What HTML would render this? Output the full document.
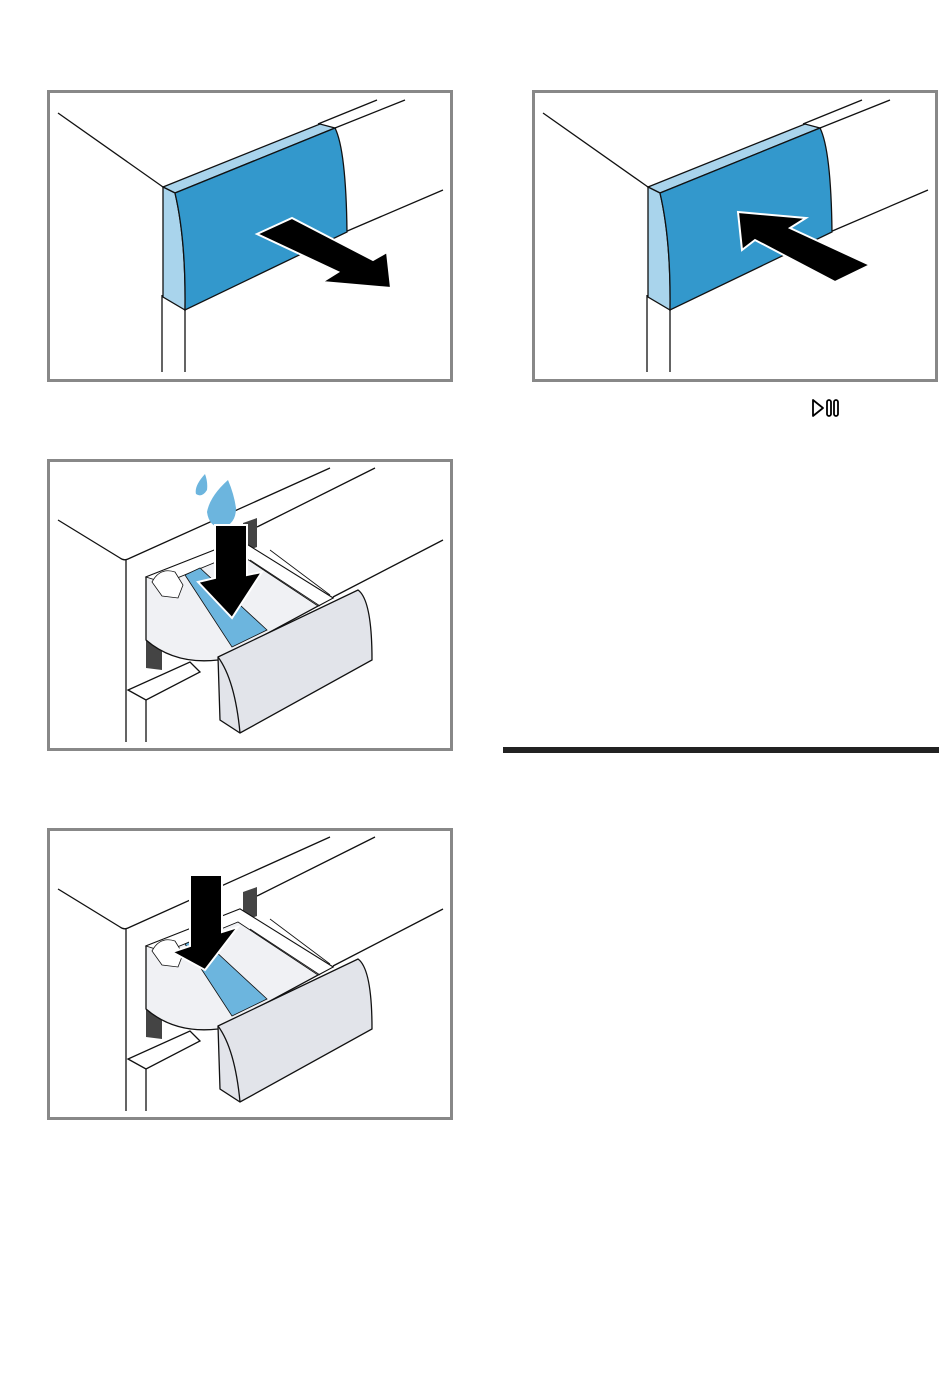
<!DOCTYPE html>
<html><head><meta charset="utf-8"><style>
html,body{margin:0;padding:0;background:#fff;width:950px;height:1392px;overflow:hidden}
svg{display:block}
</style></head><body>
<svg width="950" height="1392" viewBox="0 0 950 1392" xmlns="http://www.w3.org/2000/svg">
<defs>
<g id="cab" fill="none" stroke="#111" stroke-width="1.3">
  <path d="M58,113 L163,187"/>
  <path d="M318,124 L377,100"/>
  <path d="M335,128 L405,100"/>
  <path d="M345,232 L443,190"/>
  <path d="M162,295 L162,372"/>
  <path d="M185,310 L185,372"/>
  <path d="M163,187 L320,124 L335,128 L175,193 Z" fill="#a9d4ec"/>
  <path d="M163,187 L175,193 Q186,240 185,310 L163,297 Z" fill="#a9d4ec"/>
  <path d="M175,193 L335,128 Q346,150 347,232 L185,310 Q186,240 175,193 Z" fill="#3398cc"/>
</g>
<g id="drw" stroke="#111" stroke-width="1.3">
  <path d="M58,520 L120,558 Q124,561 128,559 L330,468" fill="none"/>
  <path d="M257,527 L375,468" fill="none"/>
  <path d="M126,560 L126,742" fill="none"/>
  <path d="M146,700 L146,742" fill="none"/>
  <path d="M333,597 L443,540" fill="none"/>
  <path d="M128,690 L146,700 L200,672 L190,662 Z" fill="#fff"/>
  <path d="M243,523 L257,518 L257,547 L243,552 Z" fill="#444" stroke="none"/>
  <path d="M146,600 L146,668 L162,670 L162,640 Z" fill="#444" stroke="none"/>
  <path d="M146,577 L240,540 L333,598 L218,660 Q175,665 146,640 Z" fill="#f0f1f4"/>
  <path d="M146,577 L240,540 L333,598 L318,606 L238,553 L165,583 Z" fill="#fff" stroke-width="0.9"/>
  <path d="M250,560 L320,606" fill="none" stroke-width="0.8"/>
  <path d="M270,550 L330,595" fill="none" stroke-width="0.8"/>
  <path d="M185,575 L200,568 L267,630 L232,647 Z" fill="#6cb5de" stroke-width="0.8"/>
  <path d="M152,582 Q160,567 175,572 L183,585 L178,598 L162,596 Z" fill="#fff" stroke-width="0.8"/>
  <path d="M218,657 L358,590 Q372,600 372,660 L240,733 L220,720 Z" fill="#e2e4ea"/>
  <path d="M218,657 Q235,680 240,733" fill="none"/>
</g>
</defs>

<rect x="48.5" y="91.5" width="403" height="289" fill="#fff" stroke="#888" stroke-width="3"/>
<use href="#cab"/>
<path d="M257,234 L292,218 L373,260 L387,252 L391,288 L322,282 L338,272 Z" fill="#000" stroke="#fff" stroke-width="2"/>

<rect x="533.5" y="91.5" width="403" height="289" fill="#fff" stroke="#888" stroke-width="3"/>
<use href="#cab" transform="translate(485,0)"/>
<path d="M870,265 L835,282 L755,240 L742,250 L738,212 L806,218 L790,228 Z" fill="#000" stroke="#fff" stroke-width="2"/>

<g fill="none" stroke="#000" stroke-width="1.8" stroke-linejoin="round">
  <path d="M813,400 L813,416 L823,408 Z"/>
  <rect x="827" y="400" width="4" height="16" rx="2"/>
  <rect x="834" y="400" width="4" height="16" rx="2"/>
</g>

<rect x="48.5" y="460.5" width="403" height="289" fill="#fff" stroke="#888" stroke-width="3"/>
<use href="#drw"/>
<path d="M205,474 Q194,486 196,494 Q202,498 207,490 Q208,482 205,474 Z M228,480 Q210,496 207,512 Q209,527 222,528 Q236,524 236,508 Q234,494 228,480 Z" fill="#6cb5de"/>
<path d="M215,525 L247,525 L247,575 L262,572 L232,618 L198,582 L215,578 Z" fill="#000" stroke="#fff" stroke-width="2"/>

<rect x="48.5" y="829.5" width="403" height="289" fill="#fff" stroke="#888" stroke-width="3"/>
<use href="#drw" transform="translate(0,369)"/>
<path d="M190,875 L222,875 L222,932 L238,927 L205,970 L172,952 L190,946 Z" fill="#000" stroke="#fff" stroke-width="2"/>

<rect x="503" y="747" width="436" height="6" fill="#222"/>
</svg>
</body></html>
